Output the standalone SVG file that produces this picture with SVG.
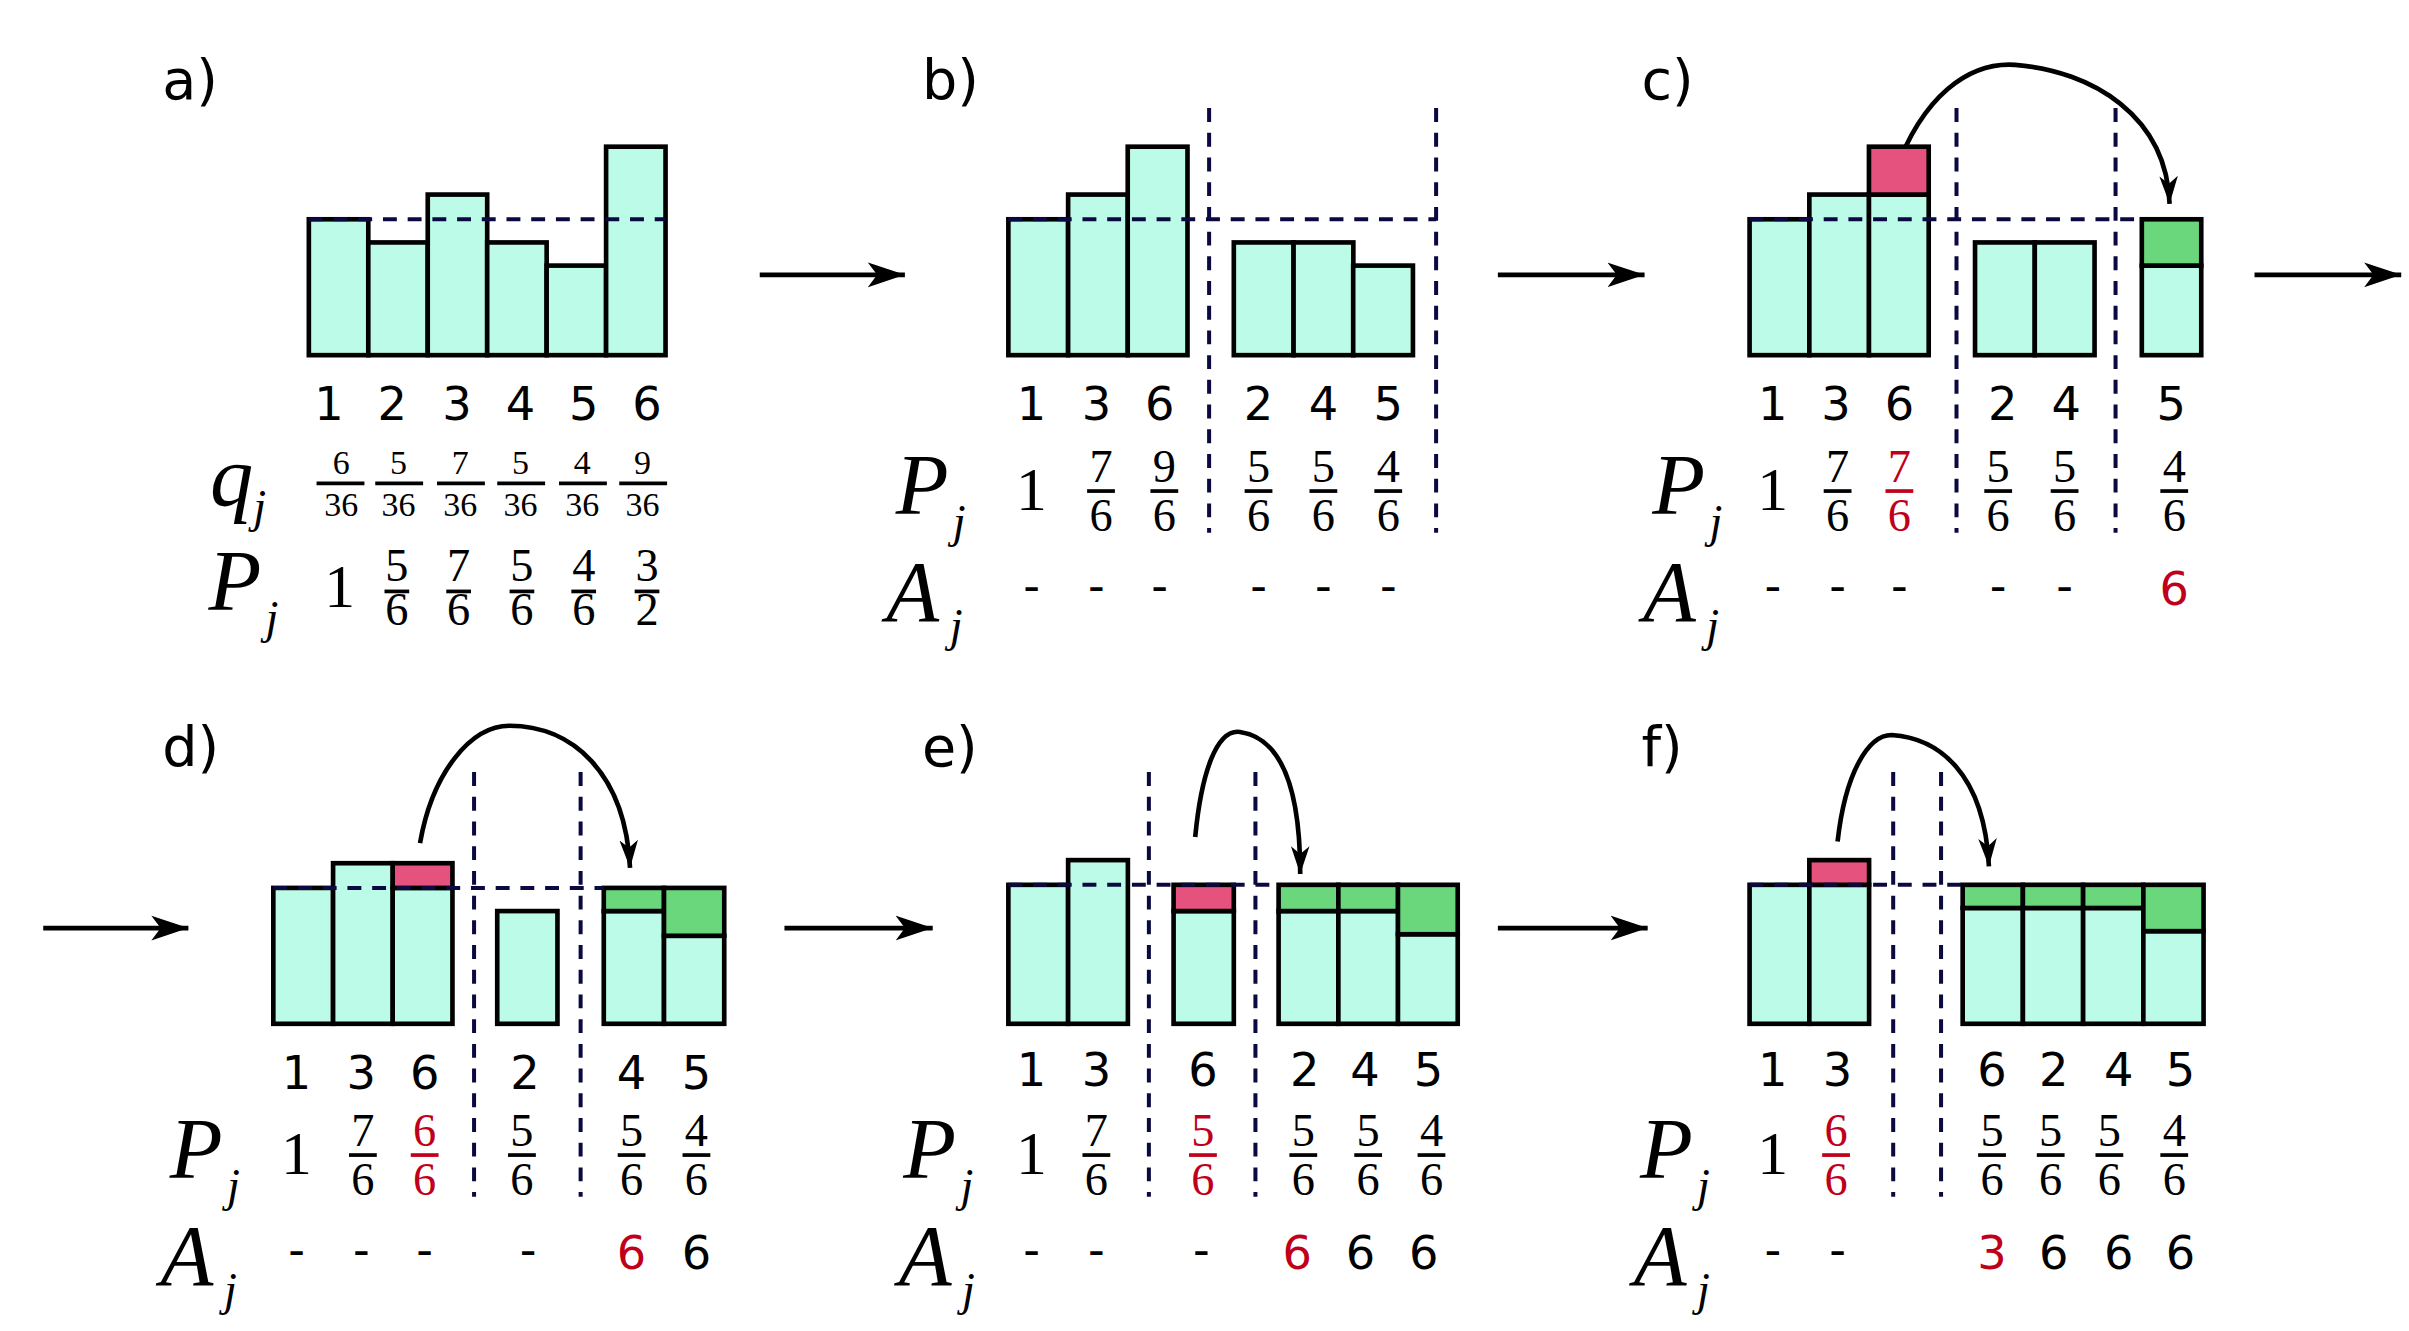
<svg xmlns="http://www.w3.org/2000/svg" width="2409" height="1331" viewBox="0 0 2409 1331">
<style>
.b{fill:#bbfbe8;stroke:#000;stroke-width:3}
.p{fill:#e5527e;stroke:#000;stroke-width:3}
.g{fill:#6bd77d;stroke:#000;stroke-width:3}
.d{stroke:#0a0a40;stroke-width:2.6;stroke-dasharray:9,7;fill:none}
.lab{font-family:"DejaVu Sans",sans-serif;font-size:36px}
.n{font-family:"DejaVu Sans",sans-serif;font-size:30px;text-anchor:middle}
.f{font-family:"Liberation Serif",serif;font-size:30px;text-anchor:middle}
.fs{font-family:"Liberation Serif",serif;font-size:22px;text-anchor:middle}
.one{font-family:"Liberation Serif",serif;font-size:40px;text-anchor:middle}
.m{font-family:"Liberation Serif",serif;font-style:italic;font-size:56px}
.ms{font-family:"Liberation Serif",serif;font-style:italic;font-size:30px}
.r{fill:#c0001a}
.fb{stroke:#000;stroke-width:2.4}
.fr{stroke:#c0001a;stroke-width:2.4}
.ar{stroke:#000;stroke-width:3;fill:none}
</style>
<defs>
<marker id="h" markerUnits="userSpaceOnUse" markerWidth="30" markerHeight="20" refX="24" refY="10" orient="auto"><path d="M0,2 L24,10 L0,18 L6,10 Z" fill="#000"/></marker>
<marker id="hc" markerUnits="userSpaceOnUse" markerWidth="24" markerHeight="16" refX="18" refY="8" orient="auto"><path d="M0,2 L18,8 L0,14 L5,8 Z" fill="#000"/></marker>
</defs>
<g transform="scale(1.5442)">
<g id="connectors">
<line class="ar" x1="492" y1="178" x2="586" y2="178" marker-end="url(#h)"/>
<line class="ar" x1="970" y1="178" x2="1065" y2="178" marker-end="url(#h)"/>
<line class="ar" x1="1460" y1="178" x2="1555" y2="178" marker-end="url(#h)"/>
<line class="ar" x1="28" y1="601" x2="122" y2="601" marker-end="url(#h)"/>
<line class="ar" x1="508" y1="601" x2="604" y2="601" marker-end="url(#h)"/>
<line class="ar" x1="970" y1="601" x2="1067" y2="601" marker-end="url(#h)"/>
<path class="ar" d="M1227,112 C1245,62 1275,40 1305,42 C1355,46 1403,75 1405,132" marker-end="url(#hc)"/>
<path class="ar" d="M272,546 C280,500 305,470 330,470 C370,470 405,500 408,562" marker-end="url(#hc)"/>
<path class="ar" d="M774,542 C778,500 788,472 803,474 C830,478 842,510 842,566" marker-end="url(#hc)"/>
<path class="ar" d="M1190,545 C1195,500 1210,476 1225,476 C1255,478 1285,500 1288,561" marker-end="url(#hc)"/>
</g>
<g id="panel-a">
<text class="lab" x="105" y="64">a)</text>
<rect class="b" x="200" y="142" width="38.5" height="88"/>
<rect class="b" x="238.5" y="157" width="38.5" height="73"/>
<rect class="b" x="277" y="126" width="38.5" height="104"/>
<rect class="b" x="315.5" y="157" width="38.5" height="73"/>
<rect class="b" x="354" y="172" width="38.5" height="58"/>
<rect class="b" x="392.5" y="95" width="38.5" height="135"/>
<line class="d" x1="200" y1="142" x2="431" y2="142"/>
<g class="n"><text x="213" y="272">1</text><text x="254" y="272">2</text><text x="296" y="272">3</text><text x="337" y="272">4</text><text x="378" y="272">5</text><text x="419" y="272">6</text></g>
<text class="m" x="136" y="327" font-size="48">q</text><text class="ms" x="164" y="338" font-size="28">j</text>
<g class="fs"><text x="221" y="307">6</text><text x="221" y="334">36</text><text x="258" y="307">5</text><text x="258" y="334">36</text><text x="298" y="307">7</text><text x="298" y="334">36</text><text x="337" y="307">5</text><text x="337" y="334">36</text><text x="377" y="307">4</text><text x="377" y="334">36</text><text x="416" y="307">9</text><text x="416" y="334">36</text></g>
<g class="fb"><line x1="205" y1="313" x2="236" y2="313"/><line x1="243" y1="313" x2="274" y2="313"/><line x1="283" y1="313" x2="314" y2="313"/><line x1="322" y1="313" x2="353" y2="313"/><line x1="362" y1="313" x2="393" y2="313"/><line x1="401" y1="313" x2="432" y2="313"/></g>
<text class="m" x="135" y="395">P</text><text class="ms" x="172" y="410">j</text>
<text class="one" x="220" y="393">1</text>
<g class="f" font-size="25"><text x="257" y="376">5</text><text x="257" y="405">6</text><text x="297" y="376">7</text><text x="297" y="405">6</text><text x="338" y="376">5</text><text x="338" y="405">6</text><text x="378" y="376">4</text><text x="378" y="405">6</text><text x="419" y="376">3</text><text x="419" y="405">2</text></g>
<g class="fb"><line x1="249" y1="383" x2="265" y2="383"/><line x1="289" y1="383" x2="305" y2="383"/><line x1="330" y1="383" x2="346" y2="383"/><line x1="370" y1="383" x2="386" y2="383"/><line x1="411" y1="383" x2="427" y2="383"/></g>
</g>
<g id="panel-b">
<text class="lab" x="597" y="64">b)</text>
<rect class="b" x="653" y="142" width="38.7" height="88"/>
<rect class="b" x="691.7" y="126" width="38.7" height="104"/>
<rect class="b" x="730.3" y="95" width="38.7" height="135"/>
<rect class="b" x="799" y="157" width="38.7" height="73"/>
<rect class="b" x="837.7" y="157" width="38.7" height="73"/>
<rect class="b" x="876.3" y="172" width="38.7" height="58"/>
<path class="d" d="M653,142 H930 M783,70 V345 M930,70 V345"/>
<g class="n"><text x="668" y="272">1</text><text x="710" y="272">3</text><text x="751" y="272">6</text><text x="815" y="272">2</text><text x="857" y="272">4</text><text x="899" y="272">5</text></g>
<text class="m" x="580" y="333">P</text><text class="ms" x="617" y="348">j</text>
<text class="one" x="668" y="330">1</text>
<g class="f"><text x="713" y="312">7</text><text x="713" y="344">6</text><text x="754" y="312">9</text><text x="754" y="344">6</text><text x="815" y="312">5</text><text x="815" y="344">6</text><text x="857" y="312">5</text><text x="857" y="344">6</text><text x="899" y="312">4</text><text x="899" y="344">6</text></g>
<g class="fb"><line x1="704" y1="318" x2="722" y2="318"/><line x1="745" y1="318" x2="763" y2="318"/><line x1="806" y1="318" x2="824" y2="318"/><line x1="848" y1="318" x2="866" y2="318"/><line x1="890" y1="318" x2="908" y2="318"/></g>
<text class="m" x="574" y="402">A</text><text class="ms" x="615" y="415">j</text>
<g class="n"><text x="668" y="390">-</text><text x="710" y="390">-</text><text x="751" y="390">-</text><text x="815" y="390">-</text><text x="857" y="390">-</text><text x="899" y="390">-</text></g>
</g>
<g id="panel-c">
<text class="lab" x="1063" y="64">c)</text>
<rect class="b" x="1133" y="142" width="38.7" height="88"/>
<rect class="b" x="1171.7" y="126" width="38.7" height="104"/>
<rect class="b" x="1210.3" y="126" width="38.7" height="104"/>
<rect class="p" x="1210.3" y="95" width="38.7" height="31"/>
<rect class="b" x="1279" y="157" width="38.7" height="73"/>
<rect class="b" x="1317.7" y="157" width="38.7" height="73"/>
<rect class="b" x="1387" y="172" width="38.5" height="58"/>
<rect class="g" x="1387" y="142" width="38.5" height="30"/>
<path class="d" d="M1133,142 H1387 M1267,70 V345 M1370,70 V345"/>
<g class="n"><text x="1148" y="272">1</text><text x="1189" y="272">3</text><text x="1230" y="272">6</text><text x="1297" y="272">2</text><text x="1338" y="272">4</text><text x="1406" y="272">5</text></g>
<text class="m" x="1070" y="333">P</text><text class="ms" x="1107" y="348">j</text>
<text class="one" x="1148" y="330">1</text>
<g class="f"><text x="1190" y="312">7</text><text x="1190" y="344">6</text><text class="r" x="1230" y="312">7</text><text class="r" x="1230" y="344">6</text><text x="1294" y="312">5</text><text x="1294" y="344">6</text><text x="1337" y="312">5</text><text x="1337" y="344">6</text><text x="1408" y="312">4</text><text x="1408" y="344">6</text></g>
<g class="fb"><line x1="1181" y1="318" x2="1199" y2="318"/><line x1="1285" y1="318" x2="1303" y2="318"/><line x1="1328" y1="318" x2="1346" y2="318"/><line x1="1399" y1="318" x2="1417" y2="318"/></g>
<line class="fr" x1="1221" y1="318" x2="1239" y2="318"/>
<text class="m" x="1064" y="402">A</text><text class="ms" x="1105" y="415">j</text>
<g class="n"><text x="1148" y="390">-</text><text x="1190" y="390">-</text><text x="1230" y="390">-</text><text x="1294" y="390">-</text><text x="1337" y="390">-</text><text class="r" x="1408" y="392">6</text></g>
</g>
<g id="panel-d">
<text class="lab" x="105" y="496">d)</text>
<rect class="b" x="177" y="575" width="38.7" height="88"/>
<rect class="b" x="215.7" y="559" width="38.7" height="104"/>
<rect class="b" x="254.3" y="575" width="38.7" height="88"/>
<rect class="p" x="254.3" y="559" width="38.7" height="16"/>
<rect class="b" x="322" y="590" width="39" height="73"/>
<rect class="b" x="391" y="590" width="39" height="73"/>
<rect class="g" x="391" y="575" width="39" height="15"/>
<rect class="b" x="430" y="606" width="39" height="57"/>
<rect class="g" x="430" y="575" width="39" height="31"/>
<path class="d" d="M177,575 H391 M307,500 V775 M376,500 V775"/>
<g class="n"><text x="192" y="705">1</text><text x="234" y="705">3</text><text x="275" y="705">6</text><text x="340" y="705">2</text><text x="409" y="705">4</text><text x="451" y="705">5</text></g>
<text class="m" x="110" y="763">P</text><text class="ms" x="147" y="778">j</text>
<text class="one" x="192" y="760">1</text>
<g class="f"><text x="235" y="742">7</text><text x="235" y="774">6</text><text class="r" x="275" y="742">6</text><text class="r" x="275" y="774">6</text><text x="338" y="742">5</text><text x="338" y="774">6</text><text x="409" y="742">5</text><text x="409" y="774">6</text><text x="451" y="742">4</text><text x="451" y="774">6</text></g>
<g class="fb"><line x1="226" y1="748" x2="244" y2="748"/><line x1="329" y1="748" x2="347" y2="748"/><line x1="400" y1="748" x2="418" y2="748"/><line x1="442" y1="748" x2="460" y2="748"/></g>
<line class="fr" x1="266" y1="748" x2="284" y2="748"/>
<text class="m" x="104" y="832">A</text><text class="ms" x="145" y="845">j</text>
<g class="n"><text x="192" y="820">-</text><text x="234" y="820">-</text><text x="275" y="820">-</text><text x="342" y="820">-</text><text class="r" x="409" y="822">6</text><text x="451" y="822">6</text></g>
</g>
<g id="panel-e">
<text class="lab" x="597" y="496">e)</text>
<rect class="b" x="653" y="573" width="38.7" height="90"/>
<rect class="b" x="691.7" y="557" width="38.7" height="106"/>
<rect class="b" x="760" y="590" width="39" height="73"/>
<rect class="p" x="760" y="573" width="39" height="17"/>
<rect class="b" x="828" y="590" width="38.7" height="73"/>
<rect class="g" x="828" y="573" width="38.7" height="17"/>
<rect class="b" x="866.7" y="590" width="38.7" height="73"/>
<rect class="g" x="866.7" y="573" width="38.7" height="17"/>
<rect class="b" x="905.3" y="605" width="38.7" height="58"/>
<rect class="g" x="905.3" y="573" width="38.7" height="32"/>
<path class="d" d="M653,573 H828 M744,500 V775 M813,500 V775"/>
<g class="n"><text x="668" y="703">1</text><text x="710" y="703">3</text><text x="779" y="703">6</text><text x="845" y="703">2</text><text x="884" y="703">4</text><text x="925" y="703">5</text></g>
<text class="m" x="585" y="763">P</text><text class="ms" x="622" y="778">j</text>
<text class="one" x="668" y="760">1</text>
<g class="f"><text x="710" y="742">7</text><text x="710" y="774">6</text><text class="r" x="779" y="742">5</text><text class="r" x="779" y="774">6</text><text x="844" y="742">5</text><text x="844" y="774">6</text><text x="886" y="742">5</text><text x="886" y="774">6</text><text x="927" y="742">4</text><text x="927" y="774">6</text></g>
<g class="fb"><line x1="701" y1="748" x2="719" y2="748"/><line x1="835" y1="748" x2="853" y2="748"/><line x1="877" y1="748" x2="895" y2="748"/><line x1="918" y1="748" x2="936" y2="748"/></g>
<line class="fr" x1="770" y1="748" x2="788" y2="748"/>
<text class="m" x="582" y="832">A</text><text class="ms" x="623" y="845">j</text>
<g class="n"><text x="668" y="820">-</text><text x="710" y="820">-</text><text x="778" y="820">-</text><text class="r" x="840" y="822">6</text><text x="881" y="822">6</text><text x="922" y="822">6</text></g>
</g>
<g id="panel-f">
<text class="lab" x="1063" y="496">f)</text>
<rect class="b" x="1133" y="573" width="38.7" height="90"/>
<rect class="b" x="1171.7" y="573" width="38.7" height="90"/>
<rect class="p" x="1171.7" y="557" width="38.7" height="16"/>
<rect class="b" x="1271" y="588" width="39" height="75"/>
<rect class="g" x="1271" y="573" width="39" height="15"/>
<rect class="b" x="1310" y="588" width="39" height="75"/>
<rect class="g" x="1310" y="573" width="39" height="15"/>
<rect class="b" x="1349" y="588" width="39" height="75"/>
<rect class="g" x="1349" y="573" width="39" height="15"/>
<rect class="b" x="1388" y="603" width="39" height="60"/>
<rect class="g" x="1388" y="573" width="39" height="30"/>
<path class="d" d="M1133,573 H1271 M1226,500 V775 M1257,500 V775"/>
<g class="n"><text x="1148" y="703">1</text><text x="1190" y="703">3</text><text x="1290" y="703">6</text><text x="1330" y="703">2</text><text x="1372" y="703">4</text><text x="1412" y="703">5</text></g>
<text class="m" x="1062" y="763">P</text><text class="ms" x="1099" y="778">j</text>
<text class="one" x="1148" y="760">1</text>
<g class="f"><text class="r" x="1189" y="742">6</text><text class="r" x="1189" y="774">6</text><text x="1290" y="742">5</text><text x="1290" y="774">6</text><text x="1328" y="742">5</text><text x="1328" y="774">6</text><text x="1366" y="742">5</text><text x="1366" y="774">6</text><text x="1408" y="742">4</text><text x="1408" y="774">6</text></g>
<g class="fb"><line x1="1281" y1="748" x2="1299" y2="748"/><line x1="1319" y1="748" x2="1337" y2="748"/><line x1="1357" y1="748" x2="1375" y2="748"/><line x1="1399" y1="748" x2="1417" y2="748"/></g>
<line class="fr" x1="1180" y1="748" x2="1198" y2="748"/>
<text class="m" x="1058" y="832">A</text><text class="ms" x="1099" y="845">j</text>
<g class="n"><text x="1148" y="820">-</text><text x="1190" y="820">-</text><text class="r" x="1290" y="822">3</text><text x="1330" y="822">6</text><text x="1372" y="822">6</text><text x="1412" y="822">6</text></g>
</g>
</g>
</svg>
